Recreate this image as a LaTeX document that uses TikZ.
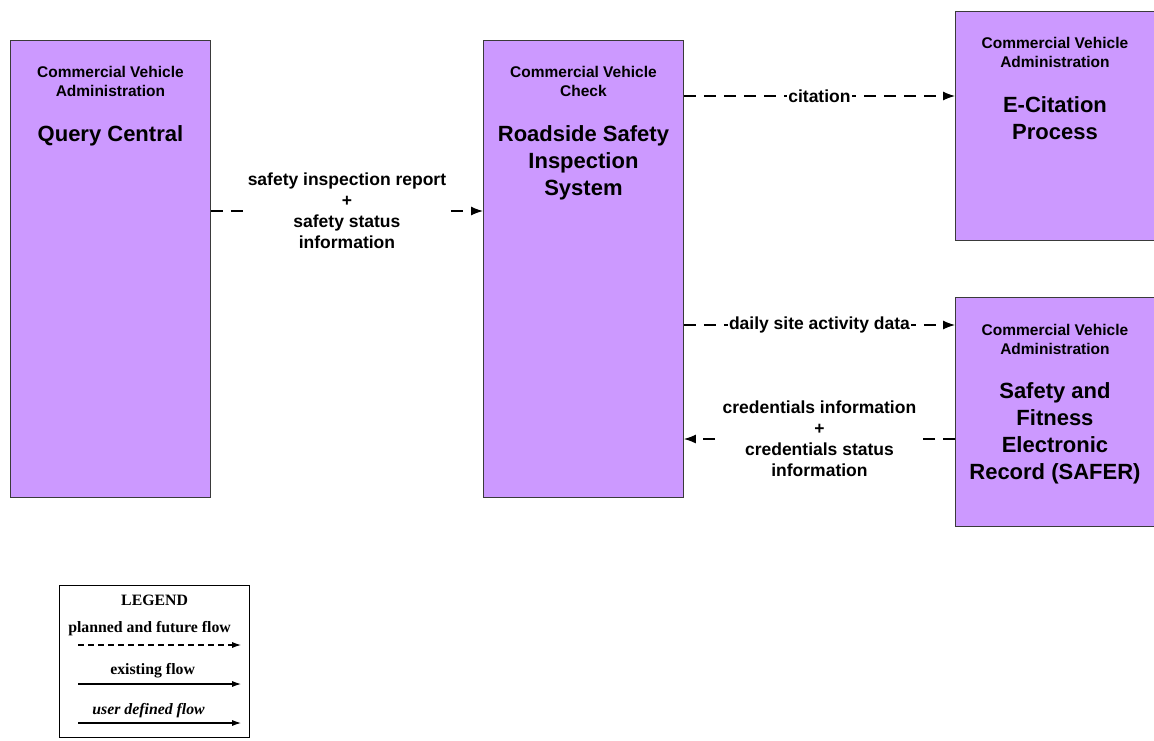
\documentclass[tikz,border=0pt]{standalone}
\usepackage{fontspec}
\setmainfont{Liberation Sans}
\newfontfamily\legendfont{Liberation Serif}
\usepackage{tikz}
\usetikzlibrary{positioning,arrows.meta}
\definecolor{cvLilac}{HTML}{CC99FF}
\definecolor{cvEdge}{HTML}{3A3A3A}
\tikzset{
  unit/.style={draw=cvEdge,fill=cvLilac,line width=0.9pt,minimum width=200pt,
    anchor=north west,inner sep=0pt},
  orgtext/.style={anchor=north,align=center,inner sep=0pt,
    font=\bfseries\fontsize{15.5}{19}\selectfont},
  nametext/.style={anchor=north,align=center,inner sep=0pt,
    font=\bfseries\fontsize{22}{27}\selectfont},
  flow/.style={-{Latex[length=12pt,width=9pt]},line width=1.2pt,
    dash pattern=on 12pt off 8pt},
  flowlabel/.style={fill=white,inner sep=1.5pt,align=center,
    font=\bfseries\fontsize{17.5}{21}\selectfont},
  legendbox/.style={draw=black,fill=white,line width=1.2pt,anchor=north west,
    minimum width=190pt,minimum height=152pt,inner sep=0pt},
  legendtext/.style={font=\legendfont\bfseries\fontsize{15.8}{18}\selectfont,inner sep=0pt},
  legendarrow/.style={-{Latex[length=9pt,width=6pt]},line width=1.2pt}
}

\begin{document}
\begin{tikzpicture}[x=1pt,y=-1pt]
  \useasboundingbox (0,0) rectangle (1154,740);

  % boxes
  \node[unit, minimum height=457pt] (query) at (10,40) {};
  \node[unit, minimum height=457pt] (rsis) at (483,40) {};
  \node[unit, minimum height=229pt, minimum width=199pt] (ecit) at (955,11) {};
  \node[unit, minimum height=229pt, minimum width=199pt] (safer) at (955,297) {};

  \node[orgtext, below=26.5pt of query.north] (queryorg) {Commercial Vehicle\\Administration};
  \node[nametext, below=28pt of queryorg] (queryname) {Query Central};

  \node[orgtext, below=26.5pt of rsis.north] (rsisorg) {Commercial Vehicle\\Check};
  \node[nametext, below=28pt of rsisorg] (rsisname) {Roadside Safety\\Inspection\\System};

  \node[orgtext, below=26.5pt of ecit.north] (ecitorg) {Commercial Vehicle\\Administration};
  \node[nametext, below=28pt of ecitorg] (ecitname) {E-Citation\\Process};

  \node[orgtext, below=27pt of safer.north] (saferorg) {Commercial Vehicle\\Administration};
  \node[nametext, below=28pt of saferorg] (safername) {Safety and\\Fitness\\Electronic\\Record (SAFER)};

  % flows
  \draw[flow] ([yshift=-171pt]query.north east) -- ([yshift=-171pt]rsis.north west)
    node[midway, flowlabel] {safety inspection report\\+\\safety status\\information};
  \draw[flow] ([yshift=-56pt]rsis.north east) -- ([yshift=-85pt]ecit.north west)
    node[midway, flowlabel] {citation};
  \draw[flow] ([yshift=-285pt]rsis.north east) -- ([yshift=-28pt]safer.north west)
    node[midway, flowlabel] {daily site activity data};
  \draw[flow] ([yshift=-142pt]safer.north west) -- ([yshift=-399pt]rsis.north east)
    node[midway, flowlabel] {credentials information\\+\\credentials status\\information};

  % legend
  \node[legendbox] (legend) at (59,585) {};
  \node[legendtext] (legendtitle) at ([yshift=-15pt]legend.north) {LEGEND};
  \node[legendtext] (plannedtext) at ([xshift=-5pt,yshift=-44pt]legend.north) {planned and future flow};
  \node[legendtext] (existtext) at ([xshift=-2pt,yshift=-86pt]legend.north) {existing flow};
  \node[legendtext, font=\legendfont\bfseries\itshape\fontsize{15.8}{18}\selectfont] (usertext)
    at ([xshift=-6pt,yshift=-126pt]legend.north) {user defined flow};
  \draw[legendarrow, dash pattern=on 6pt off 4pt]
    ([xshift=19pt,yshift=-60pt]legend.north west) -- ([xshift=-9pt,yshift=-60pt]legend.north east);
  \draw[legendarrow]
    ([xshift=19pt,yshift=-99pt]legend.north west) -- ([xshift=-9pt,yshift=-99pt]legend.north east);
  \draw[legendarrow]
    ([xshift=19pt,yshift=-138pt]legend.north west) -- ([xshift=-9pt,yshift=-138pt]legend.north east);
\end{tikzpicture}
\end{document}
